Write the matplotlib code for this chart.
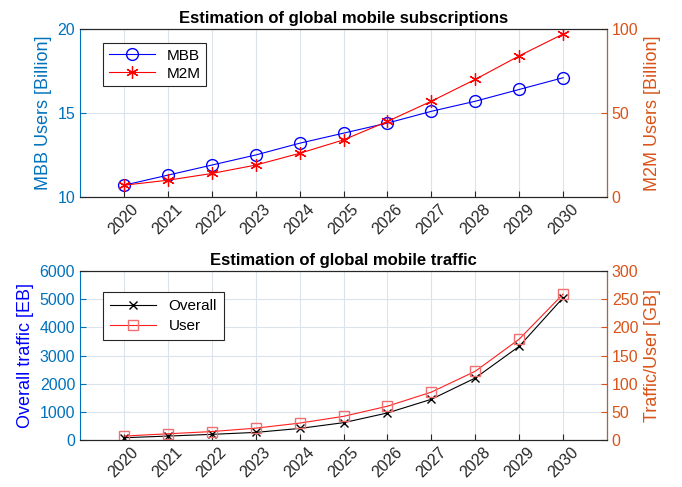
import numpy as np
import matplotlib
matplotlib.use('Agg')
import matplotlib.pyplot as plt

plt.rcParams['font.family'] = ['Liberation Sans', 'DejaVu Sans']

years = [2020, 2021, 2022, 2023, 2024, 2025, 2026, 2027, 2028, 2029, 2030]
mbb = [10.7, 11.3, 11.9, 12.5, 13.2, 13.8, 14.4, 15.1, 15.7, 16.4, 17.1]
m2m = [7, 10, 14, 19, 26, 34, 45, 57, 70, 84, 97]
overall = [80, 140, 200, 270, 410, 615, 960, 1445, 2200, 3325, 5050]
per_user = [7, 11, 15, 21, 30, 42, 60, 85, 122, 179, 259]

c_left = '#0072BD'
c_right = '#D95319'


def style_axes(ax, axr):
    ax.set_xlim(2019, 2031)
    ax.set_xticks(years)
    ax.set_xticklabels([str(y) for y in years], rotation=45, fontsize=11.5)
    ax.grid(True, color='#dde3ea', linewidth=0.8)
    ax.set_axisbelow(True)
    ax.tick_params(direction='in', length=4, labelsize=11.5)
    ax.tick_params(axis='y', colors=c_left, labelcolor=c_left)
    axr.tick_params(direction='in', length=4, labelsize=11.5, colors=c_right, labelcolor=c_right)
    ax.spines['left'].set_color(c_left)
    axr.spines['left'].set_visible(False)
    axr.spines['right'].set_color(c_right)
    for a in (ax, axr):
        a.spines['top'].set_color('#262626')
        a.spines['bottom'].set_color('#262626')
    ax.tick_params(axis='x', colors='#262626')


fig = plt.figure(figsize=(6.82, 4.87), dpi=100)

# top: subscriptions
ax1 = fig.add_axes([80 / 682, 1 - 197 / 487, 527 / 682, 168 / 487])
ax1r = ax1.twinx()
l1, = ax1.plot(years, mbb, color='blue', marker='o', markersize=8.5, markerfacecolor='none',
               linewidth=0.8, label='MBB')
l2, = ax1r.plot(years, m2m, color='red', marker=(6, 2, 0), markersize=9, markeredgewidth=0.9,
                linewidth=0.8, label='M2M')
ax1.set_ylim(10, 20)
ax1.set_yticks([10, 15, 20])
ax1r.set_ylim(0, 100)
ax1r.set_yticks([0, 50, 100])
style_axes(ax1, ax1r)
ax1.set_ylabel('MBB Users [Billion]', color=c_left, fontsize=13)
ax1r.set_ylabel('M2M Users [Billion]', color=c_right, fontsize=13)
ax1.set_title('Estimation of global mobile subscriptions', fontsize=12, fontweight='bold', pad=4)
leg = ax1.legend(handles=[l1, l2], loc='upper left', bbox_to_anchor=(0.03, 0.96), fontsize=11,
                 fancybox=False, edgecolor='#262626', framealpha=1, handlelength=3,
                 labelspacing=0.25, borderpad=0.35)
leg.get_frame().set_linewidth(0.8)

# bottom: traffic
ax2 = fig.add_axes([80 / 682, 1 - 440 / 487, 527 / 682, 169 / 487])
ax2r = ax2.twinx()
l3, = ax2.plot(years, overall, color='black', marker='x', markersize=6, linewidth=0.8, label='Overall')
l4, = ax2r.plot(years, per_user, color='#ff2020', marker='s', markersize=6.5, markerfacecolor='none',
                markeredgecolor='#f07070', linewidth=0.8, label='User')
ax2.set_ylim(0, 6000)
ax2.set_yticks(np.arange(0, 6001, 1000))
ax2r.set_ylim(0, 300)
ax2r.set_yticks(np.arange(0, 301, 50))
style_axes(ax2, ax2r)
ax2.set_ylabel('Overall traffic [EB]', color='blue', fontsize=13)
ax2r.set_ylabel('Traffic/User [GB]', color=c_right, fontsize=13)
ax2.set_title('Estimation of global mobile traffic', fontsize=12, fontweight='bold', pad=4)
leg2 = ax2.legend(handles=[l3, l4], loc='upper left', bbox_to_anchor=(0.03, 0.92), fontsize=11,
                  fancybox=False, edgecolor='#262626', framealpha=1, handlelength=3,
                  labelspacing=0.4, borderpad=0.45)
leg2.get_frame().set_linewidth(0.8)

fig.savefig('out.png', dpi=100)
